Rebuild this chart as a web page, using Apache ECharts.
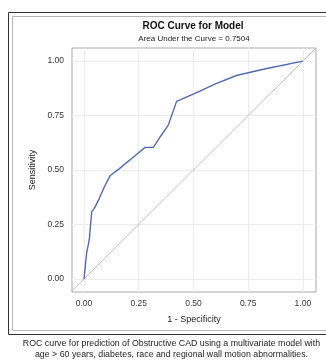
<!DOCTYPE html>
<html>
<head>
<meta charset="utf-8">
<script src="https://cdn.jsdelivr.net/npm/echarts@6/dist/echarts.min.js"></script>
<style>
html,body{margin:0;padding:0;background:#fff;}
#c{width:326px;height:362px;}
</style>
</head>
<body>
<div id="c"></div>
<script>
// Data
const fpr = [0, 0.012, 0.024, 0.035, 0.047, 0.07, 0.093, 0.12, 0.16, 0.237, 0.279, 0.317, 0.35, 0.385, 0.423, 0.53, 0.60, 0.70, 0.83, 1.0];
const tpr = [0, 0.12, 0.18, 0.309, 0.324, 0.37, 0.423, 0.475, 0.505, 0.569, 0.604, 0.604, 0.655, 0.706, 0.815, 0.862, 0.895, 0.935, 0.965, 1.0];
const refX = [-0.06, 1.06];
const refY = [-0.06, 1.06];
const tickValues = [0, 0.25, 0.5, 0.75, 1.0];
const titleText = 'ROC Curve for Model';
const subtitleText = 'Area Under the Curve = 0.7504';
const xName = '1 - Specificity';
const yName = 'Sensitivity';
const caption1 = 'ROC curve for prediction of Obstructive CAD using a multivariate model with';
const caption2 = 'age > 60 years, diabetes, race and regional wall motion abnormalities.';

const font = 'Liberation Sans, Arial, sans-serif';
const chart = echarts.init(document.getElementById('c'), null, {renderer: 'canvas'});

function axisCommon(min, max) {
  return {
    type: 'value', min: min, max: max,
    axisLine: {show: false},
    axisTick: {show: true, length: 4, lineStyle: {color: '#8c8c8c'}, customValues: tickValues},
    axisLabel: {color: '#333', fontSize: 8.5, fontFamily: font, customValues: tickValues,
      formatter: v => v.toFixed(2)},
    splitLine: {show: false}
  };
}

const gridLines = [];
tickValues.forEach(v => { gridLines.push({xAxis: v}); gridLines.push({yAxis: v}); });

chart.setOption({
  animation: false,
  backgroundColor: '#fff',
  grid: {left: 72, top: 48, width: 244, height: 244, show: true, borderColor: '#a8a8a8', borderWidth: 1, backgroundColor: 'transparent'},
  xAxis: Object.assign(axisCommon(-0.055, 1.06), {
    name: xName, nameLocation: 'middle', nameGap: 23,
    nameTextStyle: {fontSize: 9, color: '#222', fontFamily: font},
    axisLabel: {color: '#333', fontSize: 8.5, fontFamily: font, customValues: tickValues, margin: 7,
      formatter: v => v.toFixed(2)}
  }),
  yAxis: Object.assign(axisCommon(-0.06, 1.06), {
    name: yName, nameLocation: 'middle', nameGap: 33,
    nameTextStyle: {fontSize: 9, color: '#222', fontFamily: font}
  }),
  series: [
    {
      type: 'line', data: refX.map((x, i) => [x, refY[i]]), symbol: 'none', silent: true,
      lineStyle: {color: '#bdbdbd', width: 1}, clip: true, z: 2,
      markLine: {silent: true, symbol: 'none', label: {show: false},
        lineStyle: {color: '#ececec', width: 1, type: 'solid'}, data: gridLines, z: 1}
    },
    {
      type: 'line', data: fpr.map((x, i) => [x, tpr[i]]), symbol: 'none',
      lineStyle: {color: '#4f6bb0', width: 1.4}, z: 3
    }
  ],
  graphic: [
    {type: 'rect', shape: {x: 8.5, y: 12.5, width: 330, height: 322}, style: {fill: 'none', stroke: '#333', lineWidth: 1}, silent: true},
    {type: 'rect', shape: {x: 12.5, y: 16.5, width: 330, height: 314}, style: {fill: 'none', stroke: '#b5b5b5', lineWidth: 1}, silent: true},
    {type: 'text', x: 193, y: 21, style: {text: titleText, align: 'center', fontSize: 10, fontWeight: 'bold', fill: '#111', fontFamily: font}},
    {type: 'text', x: 194, y: 35, style: {text: subtitleText, align: 'center', fontSize: 8, fill: '#222', fontFamily: font}},
    {type: 'text', x: 171.5, y: 339, style: {text: caption1, align: 'center', fontSize: 8.8, fill: '#222', fontFamily: font}},
    {type: 'text', x: 171.5, y: 350, style: {text: caption2, align: 'center', fontSize: 8.8, fill: '#222', fontFamily: font}}
  ]
});
</script>
</body>
</html>
